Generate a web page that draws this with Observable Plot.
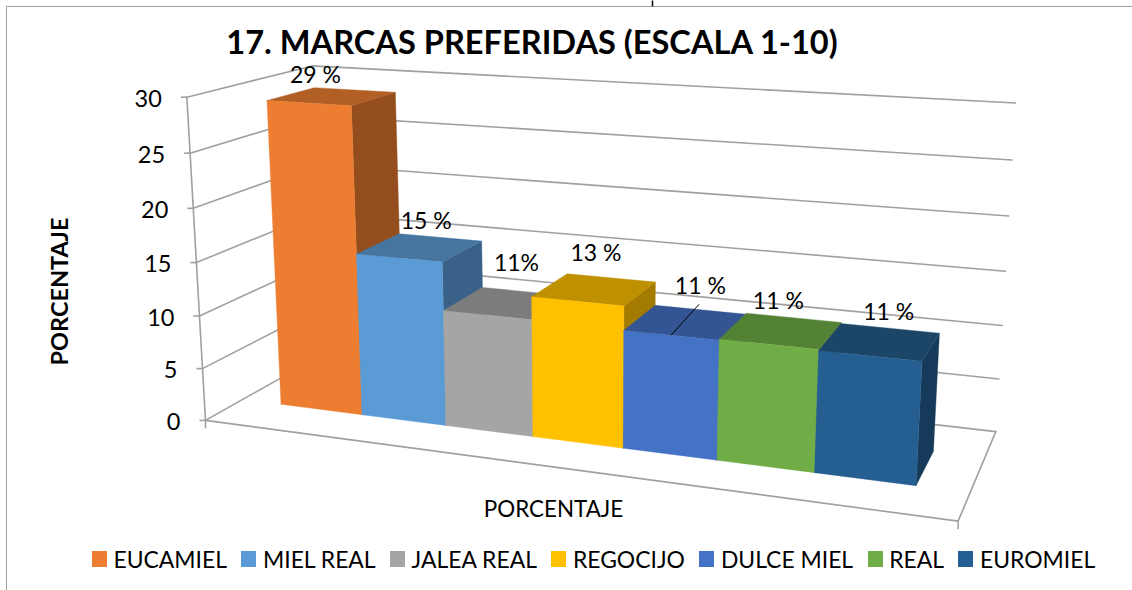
<!DOCTYPE html>
<html><head><meta charset="utf-8">
<script src="https://cdn.jsdelivr.net/npm/d3@7"></script>
<script src="https://cdn.jsdelivr.net/npm/@observablehq/plot@0.6"></script>
<style>
html,body{margin:0;background:#fff;}
#page{position:relative;width:1132px;height:590px;overflow:hidden;font-family:Lato,sans-serif;color:#000;}
#frame{position:absolute;left:6px;top:6px;right:-4px;bottom:-4px;border:1.5px solid #a0a0a0;}
#title{position:absolute;left:0;width:1064px;top:22px;text-align:center;font-weight:700;font-size:32.6px;line-height:40px;white-space:nowrap;}
#legend{position:absolute;top:546px;left:92px;display:flex;gap:14.5px;font-size:22.9px;line-height:26px;white-space:nowrap;}
#legend span.item{display:flex;align-items:center;gap:6.5px;}
#legend i{display:block;width:15px;height:16px;}
#chart{position:absolute;left:0;top:0;}
</style></head><body>
<div id="page"><div id="frame"></div><div id="chart"></div><div id="title">17. MARCAS PREFERIDAS (ESCALA 1-10)</div><div id="legend"></div></div>
<script>
const brands = ["EUCAMIEL","MIEL REAL","JALEA REAL","REGOCIJO","DULCE MIEL","REAL","EUROMIEL"];
const values = [29,15.4,10.9,13,10.8,10.9,10.8];
const valueLabels = ["29 %","15 %","11%","13 %","11 %","11 %","11 %"];
const frontColors = ["#ED7D31","#5B9BD5","#A5A5A5","#FFC000","#4472C4","#70AD47","#255E91"];
const topColors   = ["#B25F25","#4675A0","#7C7C7C","#BF9000","#335593","#548235","#1C4668"];
const sideColors  = ["#944E1E","#3A6288","#696969","#A37B00","#2B4A80","#476F2D","#163A59"];
const yTicks = [0,5,10,15,20,25,30];

// View calibration: where the corners of the 3D chart box fall on the page.
const boxCorners = [
  [0,0,0,205,421],[7,0,0,958,519],[7,0,1,995,433],[0,0,1,323,352],
  [0,30,0,186,97],[0,30,1,312,65.5],[7,30,1,1015,102]
];
function solve(A,b){
  const n=b.length, M=A.map((r,i)=>[...r,b[i]]);
  for(let c=0;c<n;c++){
    let p=c; for(let r=c+1;r<n;r++) if(Math.abs(M[r][c])>Math.abs(M[p][c])) p=r;
    [M[c],M[p]]=[M[p],M[c]];
    for(let r=0;r<n;r++){ if(r===c) continue; const f=M[r][c]/M[c][c]; for(let k=c;k<=n;k++) M[r][k]-=f*M[c][k]; }
  }
  return M.map((r,i)=>r[n]/r[i]);
}
const rows=[],rhs=[];
for(const [u,v,d,x,y] of boxCorners){
  const X=u/7,Y=v/30,Z=d;
  rows.push([X,Y,Z,1,0,0,0,0,-x*X,-x*Y,-x*Z]); rhs.push(x);
  rows.push([0,0,0,0,X,Y,Z,1,-y*X,-y*Y,-y*Z]); rhs.push(y);
}
const ATA=rows[0].map((_,i)=>rows[0].map((_,j)=>d3.sum(rows,r=>r[i]*r[j])));
const ATb=rows[0].map((_,i)=>d3.sum(rows,(r,k)=>r[i]*rhs[k]));
const P=solve(ATA,ATb);
function project(u,v,d){
  const X=u/7,Y=v/30,Z=d, w=P[8]*X+P[9]*Y+P[10]*Z+1;
  return {x:(P[0]*X+P[1]*Y+P[2]*Z+P[3])/w, y:(P[4]*X+P[5]*Y+P[6]*Z+P[7])/w};
}

// Bars occupy these ranges of the box
const barStart=0.425, barStep=0.8746, depthFront=0.29, depthBack=0.68;

const faces=[];
function face(id,color,pts){
  const ps=pts.map(p=>project(...p));
  [...ps,ps[0]].forEach(p=>faces.push({id,color,x:p.x,y:p.y}));
}
values.forEach((v,i)=>{
  const a=barStart+i*barStep,b=a+barStep,f=depthFront,k=depthBack;
  face(`s${i}`,sideColors[i],[[b,0,f],[b,0,k],[b,v,k],[b,v,f]]);
  face(`t${i}`,topColors[i],[[a,v,f],[b,v,f],[b,v,k],[a,v,k]]);
  face(`f${i}`,frontColors[i],[[a,0,f],[b,0,f],[b,v,f],[a,v,f]]);
});

// Gridlines: left wall and back wall per tick, then the floor outline
const grid=[];
yTicks.forEach(t=>{
  [[0,t,0],[0,t,1],[7,t,1]].forEach(p=>grid.push({id:`g${t}`,...project(...p)}));
});
[[0,0,0],[7,0,0],[7,0,1]].forEach(p=>grid.push({id:"floor",...project(...p)}));
[[0,0,0],[0,30,0]].forEach(p=>grid.push({id:"axis",...project(...p)}));

const tickData=yTicks.map(t=>({t,...project(0,t,0)}));
const labelNudge=[[-39,-14],[-14,-16],[-8,-28],[-15,-24],[0,-23],[-15,-16],[-1,-16]];
const labelData=values.map((v,i)=>{
  const p=project(barStart+(i+.5)*barStep,v,depthBack);
  return {label:valueLabels[i],x:p.x+labelNudge[i][0],y:p.y+labelNudge[i][1]};
});
const leaderBar=4;
const lp=project(barStart+(leaderBar+.5)*barStep,values[leaderBar],depthFront);

const floorEnds=[project(0,0,0),project(7,0,0)];

const plot=Plot.plot({
  width:1132,height:590,margin:0,
  style:{background:"transparent",fontFamily:"Lato,sans-serif",overflow:"visible"},
  x:{domain:[0,1132],range:[0,1132],axis:null},
  y:{domain:[0,590],range:[0,590],axis:null},
  color:{type:"identity"},
  marks:[
    Plot.line(grid,{x:"x",y:"y",z:"id",stroke:"#a0a0a0",strokeWidth:1.6}),
    Plot.link(tickData,{x1:d=>d.x-6,x2:"x",y1:"y",y2:"y",stroke:"#a0a0a0",strokeWidth:1.6}),
    Plot.link(floorEnds,{x1:"x",x2:"x",y1:"y",y2:d=>d.y+8,stroke:"#a0a0a0",strokeWidth:1.6}),
    Plot.line(faces,{x:"x",y:"y",z:"id",fill:"color",stroke:"color",strokeWidth:0.4}),
    Plot.link([{...lp}],{x1:"x",y1:"y",x2:d=>d.x+28,y2:d=>d.y-31,stroke:"#000",strokeWidth:1}),
    Plot.text(tickData,{x:d=>d.x-25,y:"y",dy:2,text:d=>String(d.t),textAnchor:"end",fontSize:23.5,fill:"#000"}),
    Plot.text(labelData,{x:"x",y:"y",text:"label",fontSize:23,fill:"#000"}),
    Plot.text(["PORCENTAJE"],{x:()=>60,y:()=>291,rotate:-90,fontSize:23.5,fontWeight:700,fill:"#000"}),
    Plot.text(["PORCENTAJE"],{x:()=>553,y:()=>509,fontSize:22.4,fill:"#000"}),
    Plot.link([652],{x1:d=>d,x2:d=>d,y1:()=>0,y2:()=>6,stroke:"#000",strokeWidth:1.5})
  ]
});
document.getElementById("chart").append(plot);
const lg=document.getElementById("legend");
brands.forEach((b,i)=>{
  const s=document.createElement("span");s.className="item";
  const sw=document.createElement("i");sw.style.background=frontColors[i];
  s.append(sw,document.createTextNode(b));lg.append(s);
});
</script>
</body></html>
